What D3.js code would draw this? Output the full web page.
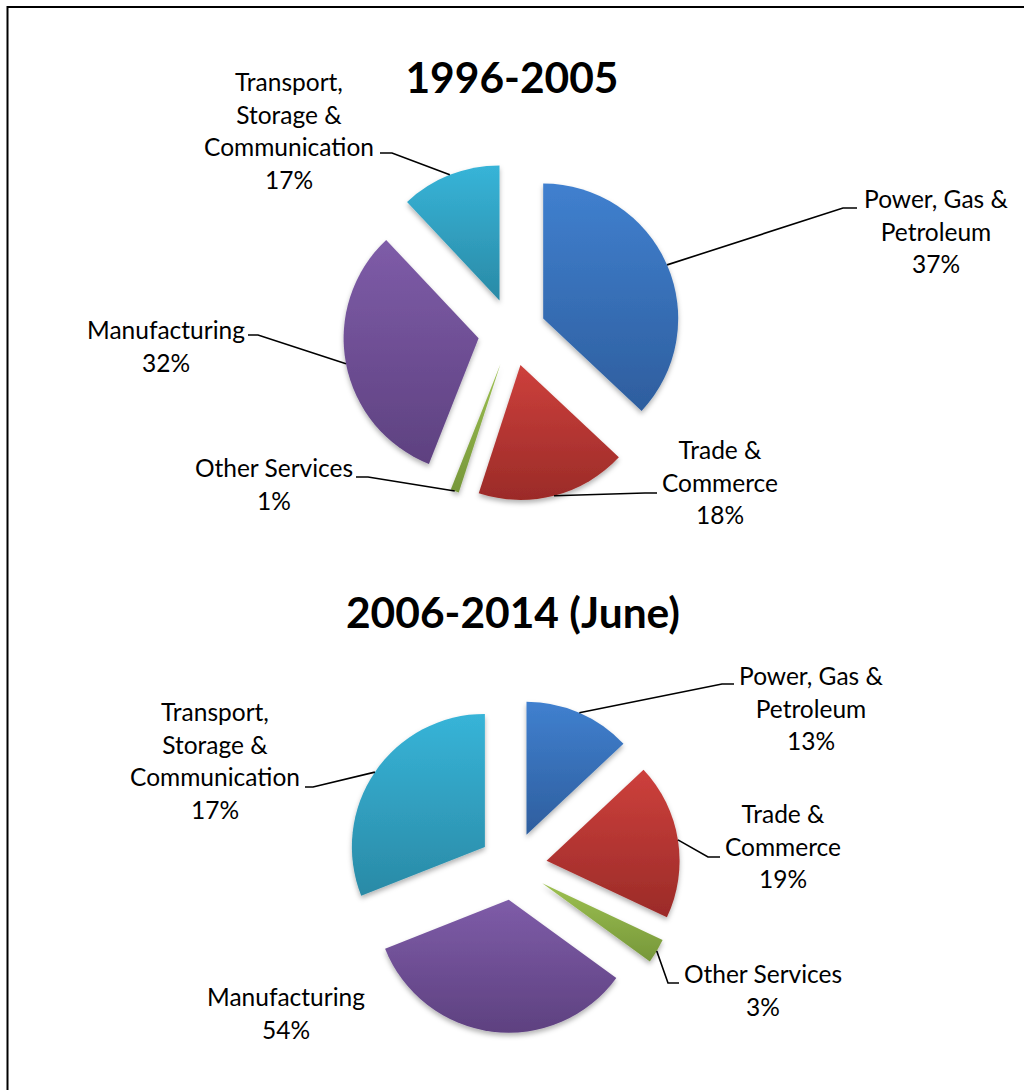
<!DOCTYPE html>
<html>
<head>
<meta charset="utf-8">
<script src="https://cdn.jsdelivr.net/npm/d3@7"></script>
<style>
  body { margin: 0; background: #fff; }
  svg text { font-family: Lato, "Open Sans", sans-serif; fill: #000; }
</style>
</head>
<body>
<div id="chart"></div>
<script>
// sectors, in the drawing order (clockwise from 12 o'clock)
const sectors = ["power", "trade", "other", "manufacturing", "transport"];
const sectorLines = [
  ["Power, Gas &", "Petroleum"],
  ["Trade &", "Commerce"],
  ["Other Services"],
  ["Manufacturing"],
  ["Transport,", "Storage &", "Communication"]
];

// slice sizes as drawn
const slices1996 = [37, 18, 1, 32, 12];
const slices2006 = [13, 19, 3, 34, 31];

// percentage labels as printed on the chart
const pct1996 = ["37%", "18%", "1%", "32%", "17%"];
const pct2006 = ["13%", "19%", "3%", "54%", "17%"];

const titles = ["1996-2005", "2006-2014 (June)"];

// top / bottom colours of each slice gradient
const colourTop = ["#4080cf", "#cd403c", "#9dc050", "#7e5ca8", "#37b4d8"];
const colourBottom = ["#2e5e9e", "#9b2b28", "#76973a", "#5e4180", "#2a8aa6"];

const width = 1024;
const height = 1090;
const lineHeight = 32.5;

// label placement for each pie: text x, first baseline, elbow + end of the leader
const layout = [
  {
    cx: 512, cy: 332, r: 135, explode: 34, titleY: 93,
    labels: [
      { x: 936, y: 208, elbow: [843, 208], end: [857, 208] },
      { x: 720, y: 459, elbow: [645, 493], end: [657, 493] },
      { x: 274, y: 477, elbow: [368, 477], end: [356, 477] },
      { x: 166, y: 339, elbow: [258, 335], end: [248, 335] },
      { x: 289, y: 91, elbow: [392, 153], end: [380, 153] }
    ]
  },
  {
    cx: 513, cy: 866, r: 133, explode: 34, titleY: 628,
    labels: [
      { x: 811, y: 685, elbow: [722, 684], end: [734, 684] },
      { x: 783, y: 823, elbow: [708, 857], end: [720, 857] },
      { x: 763, y: 983, elbow: [668, 983], end: [679, 983] },
      { x: 286, y: 1006, elbow: null, end: null },
      { x: 215, y: 721, elbow: [313, 787], end: [305, 787] }
    ]
  }
];

const svg = d3.select("#chart").append("svg")
    .attr("width", width)
    .attr("height", height);

const defs = svg.append("defs");

colourTop.forEach((c, i) => {
  const g = defs.append("linearGradient")
      .attr("id", `grad-${i}`)
      .attr("x1", 0).attr("y1", 0).attr("x2", 0).attr("y2", 1);
  g.append("stop").attr("offset", "0%").attr("stop-color", c);
  g.append("stop").attr("offset", "100%").attr("stop-color", colourBottom[i]);
});

const shadow = defs.append("filter")
    .attr("id", "shadow")
    .attr("x", "-20%").attr("y", "-20%").attr("width", "140%").attr("height", "140%");
shadow.append("feDropShadow")
    .attr("dx", 0).attr("dy", 3)
    .attr("stdDeviation", 2.5)
    .attr("flood-color", "#000")
    .attr("flood-opacity", 0.3);

// page frame (runs off the right and bottom edges)
svg.append("path")
    .attr("d", `M7.5,${height} V7 H${width}`)
    .attr("fill", "none")
    .attr("stroke", "#000")
    .attr("stroke-width", 2);

const pie = d3.pie().sort(null).value(d => d);

function drawPie(values, pct, title, conf) {
  const arcs = pie(values);
  const arc = d3.arc().innerRadius(0).outerRadius(conf.r);

  const g = svg.append("g").attr("transform", `translate(${conf.cx},${conf.cy})`);

  // offset of an exploded slice along its mid-angle
  const offset = d => {
    const a = (d.startAngle + d.endAngle) / 2;
    return [conf.explode * Math.sin(a), -conf.explode * Math.cos(a)];
  };

  g.selectAll("path.slice")
    .data(arcs)
    .join("path")
      .attr("class", "slice")
      .attr("transform", d => `translate(${offset(d)})`)
      .attr("d", arc)
      .attr("fill", (_d, i) => `url(#grad-${i})`)
      .attr("filter", "url(#shadow)");

  // leader lines: from the outer arc at mid-angle to the elbow, then a short flat bit
  g.selectAll("path.leader")
    .data(arcs.filter((_d, i) => conf.labels[i].elbow))
    .join("path")
      .attr("class", "leader")
      .attr("fill", "none")
      .attr("stroke", "#000")
      .attr("stroke-width", 1.6)
      .attr("d", d => {
        const i = d.index;
        const a = (d.startAngle + d.endAngle) / 2;
        const [ox, oy] = offset(d);
        const sx = ox + conf.r * Math.sin(a);
        const sy = oy - conf.r * Math.cos(a);
        const lab = conf.labels[i];
        return d3.line()([
          [sx, sy],
          [lab.elbow[0] - conf.cx, lab.elbow[1] - conf.cy],
          [lab.end[0] - conf.cx, lab.end[1] - conf.cy]
        ]);
      });

  // labels
  const lab = svg.append("g").selectAll("text")
    .data(arcs)
    .join("text")
      .attr("text-anchor", "middle")
      .attr("font-size", 24.5);

  lab.each(function(d) {
    const i = d.index;
    const pos = conf.labels[i];
    const lines = sectorLines[i].concat([pct[i]]);
    d3.select(this).selectAll("tspan")
      .data(lines)
      .join("tspan")
        .attr("x", pos.x)
        .attr("y", (_t, k) => pos.y + k * lineHeight)
        .text(t => t);
  });

  svg.append("text")
      .attr("x", conf.cx)
      .attr("y", conf.titleY)
      .attr("text-anchor", "middle")
      .attr("font-size", 42.5)
      .attr("font-weight", "bold")
      .text(title);
}

drawPie(slices1996, pct1996, titles[0], layout[0]);
drawPie(slices2006, pct2006, titles[1], layout[1]);
</script>
</body>
</html>
